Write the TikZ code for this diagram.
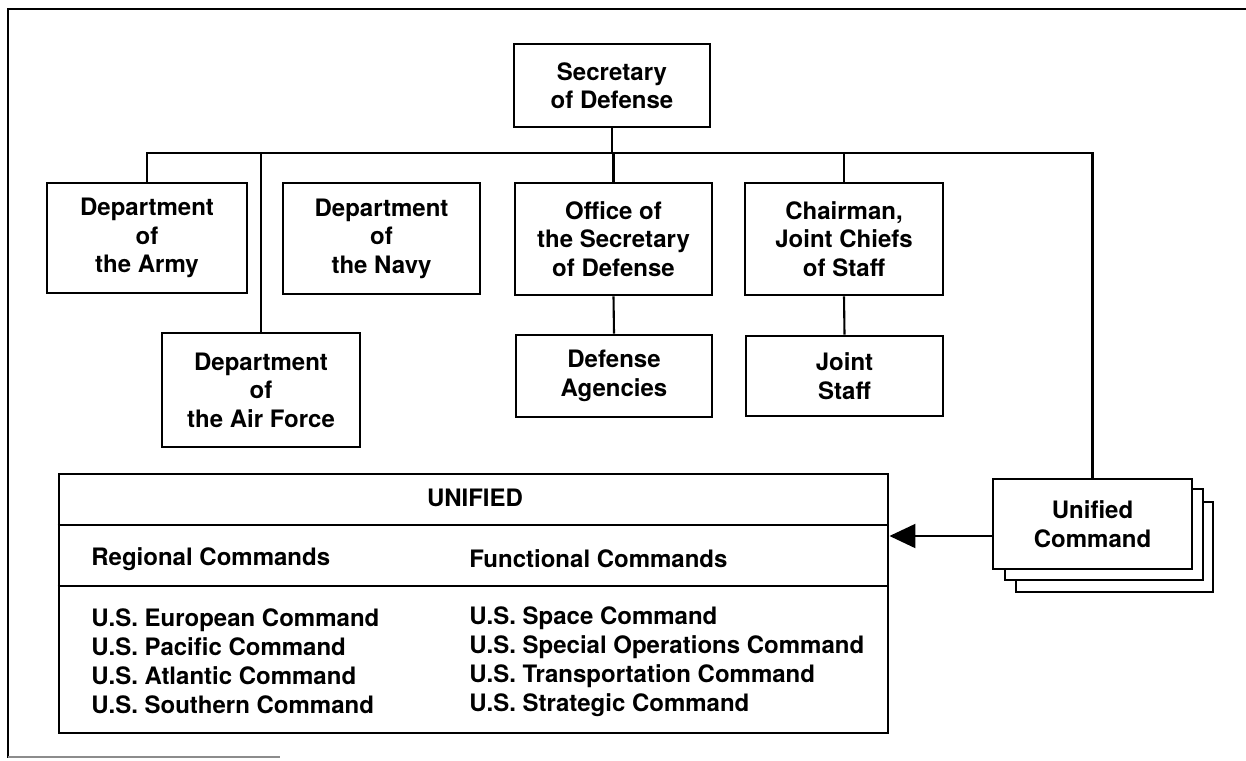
\documentclass[tikz,border=0pt]{standalone}
\usepackage{fontspec}
\setmainfont{TeX Gyre Heros}
\usetikzlibrary{arrows.meta}

\newcommand{\boxfont}{\bfseries\fontsize{12}{14.2}\selectfont}
\newcommand{\listfont}{\bfseries\fontsize{12}{14.5}\selectfont}

\begin{document}
\begin{tikzpicture}[x=0.5pt, y=-0.5pt,
    box/.style={draw, line width=1.45pt, fill=white, align=center,
      minimum width=99pt, font=\boxfont},
    link/.style={line width=1.05pt},
    label/.style={font=\boxfont, inner sep=0pt}]
    \useasboundingbox (0,0) rectangle (1246,760);

    % page frame
    \draw[line width=1.2pt] (1246,9) -- (8,9) -- (8,758);
    \draw[line width=0.8pt, black!45] (8,757) -- (280,757);

    % top of the chain
    \node[box, minimum width=98pt, minimum height=41.5pt] (sec) at (612,85.5) {Secretary\\of Defense};
    \coordinate (bus) at (615,153);

    % first row
    \node[box, minimum width=100pt, minimum height=55pt] (army) at (147,238) {Department\\of\\the Army};
    \node[box, minimum width=98.5pt, minimum height=55.5pt] (navy) at (381.5,238.5) {Department\\of\\the Navy};
    \node[box, minimum width=98.5pt, minimum height=56pt] (osd) at (613.5,239) {Office of\\the Secretary\\of Defense};
    \node[box, minimum width=99pt, minimum height=56pt] (cjcs) at (844,239) {Chairman,\\Joint Chiefs\\of Staff};

    % second row
    \node[box, minimum width=99pt, minimum height=57pt] (air) at (261,390) {Department\\of\\the Air Force};
    \node[box, minimum width=98pt, minimum height=41pt] (agencies) at (614,376) {Defense\\Agencies};
    \node[box, minimum width=98.5pt, minimum height=40pt] (jstaff) at (844.5,376) {Joint\\Staff};

    % stacked unified command boxes
    \node[box, minimum width=98.5pt, minimum height=45pt] (ucmd3) at (1114.5,547) {};
    \node[box, minimum width=99pt, minimum height=45.5pt] (ucmd2) at (1104,534.5) {};
    \node[box, minimum width=99.5pt, minimum height=45pt] (ucmd) at (1092.5,524) {Unified\\Command};

    % the unified commands table
    \node[box, minimum width=414.5pt, minimum height=129.5pt] (unified) at (473.5,603.5) {};
    \coordinate (sepA) at (0,525);
    \coordinate (sepB) at (0,586);
    \draw[line width=1.45pt] (unified.west |- sepA) -- (unified.east |- sepA);
    \draw[line width=1.45pt] (unified.west |- sepB) -- (unified.east |- sepB);
    \node[label] (title) at (475,498) {UNIFIED};
    \node[label, anchor=west] (reghead) at (91,559) {Regional Commands};
    \node[label, anchor=west] (funchead) at (469,559) {Functional Commands};
    \node[label, anchor=west, align=left, font=\listfont] (reglist) at (91,661.5)
      {U.S. European Command\\U.S. Pacific Command\\U.S. Atlantic Command\\U.S. Southern Command};
    \node[label, anchor=west, align=left, font=\listfont] (funclist) at (469,661.5)
      {U.S. Space Command\\U.S. Special Operations Command\\U.S. Transportation Command\\U.S. Strategic Command};

    % connectors
    \draw[link] (sec.south) -- (sec.south |- bus);
    \draw[link] (army.north) -- (army.north |- bus) -- (ucmd.north |- bus) -- (ucmd.north);
    \draw[link] (air.north) -- (air.north |- bus);
    \draw[link] (osd.north) -- (osd.north |- bus);
    \draw[link] (cjcs.north) -- (cjcs.north |- bus);
    \draw[link] (osd.south) -- (agencies.north);
    \draw[link] (cjcs.south) -- (jstaff.north);
    \draw[link, -{Triangle[length=13pt, width=12pt]}] ([yshift=-6pt]ucmd.west) -- ([yshift=-6pt]ucmd.west -| unified.east);
  \end{tikzpicture}
\end{document}
